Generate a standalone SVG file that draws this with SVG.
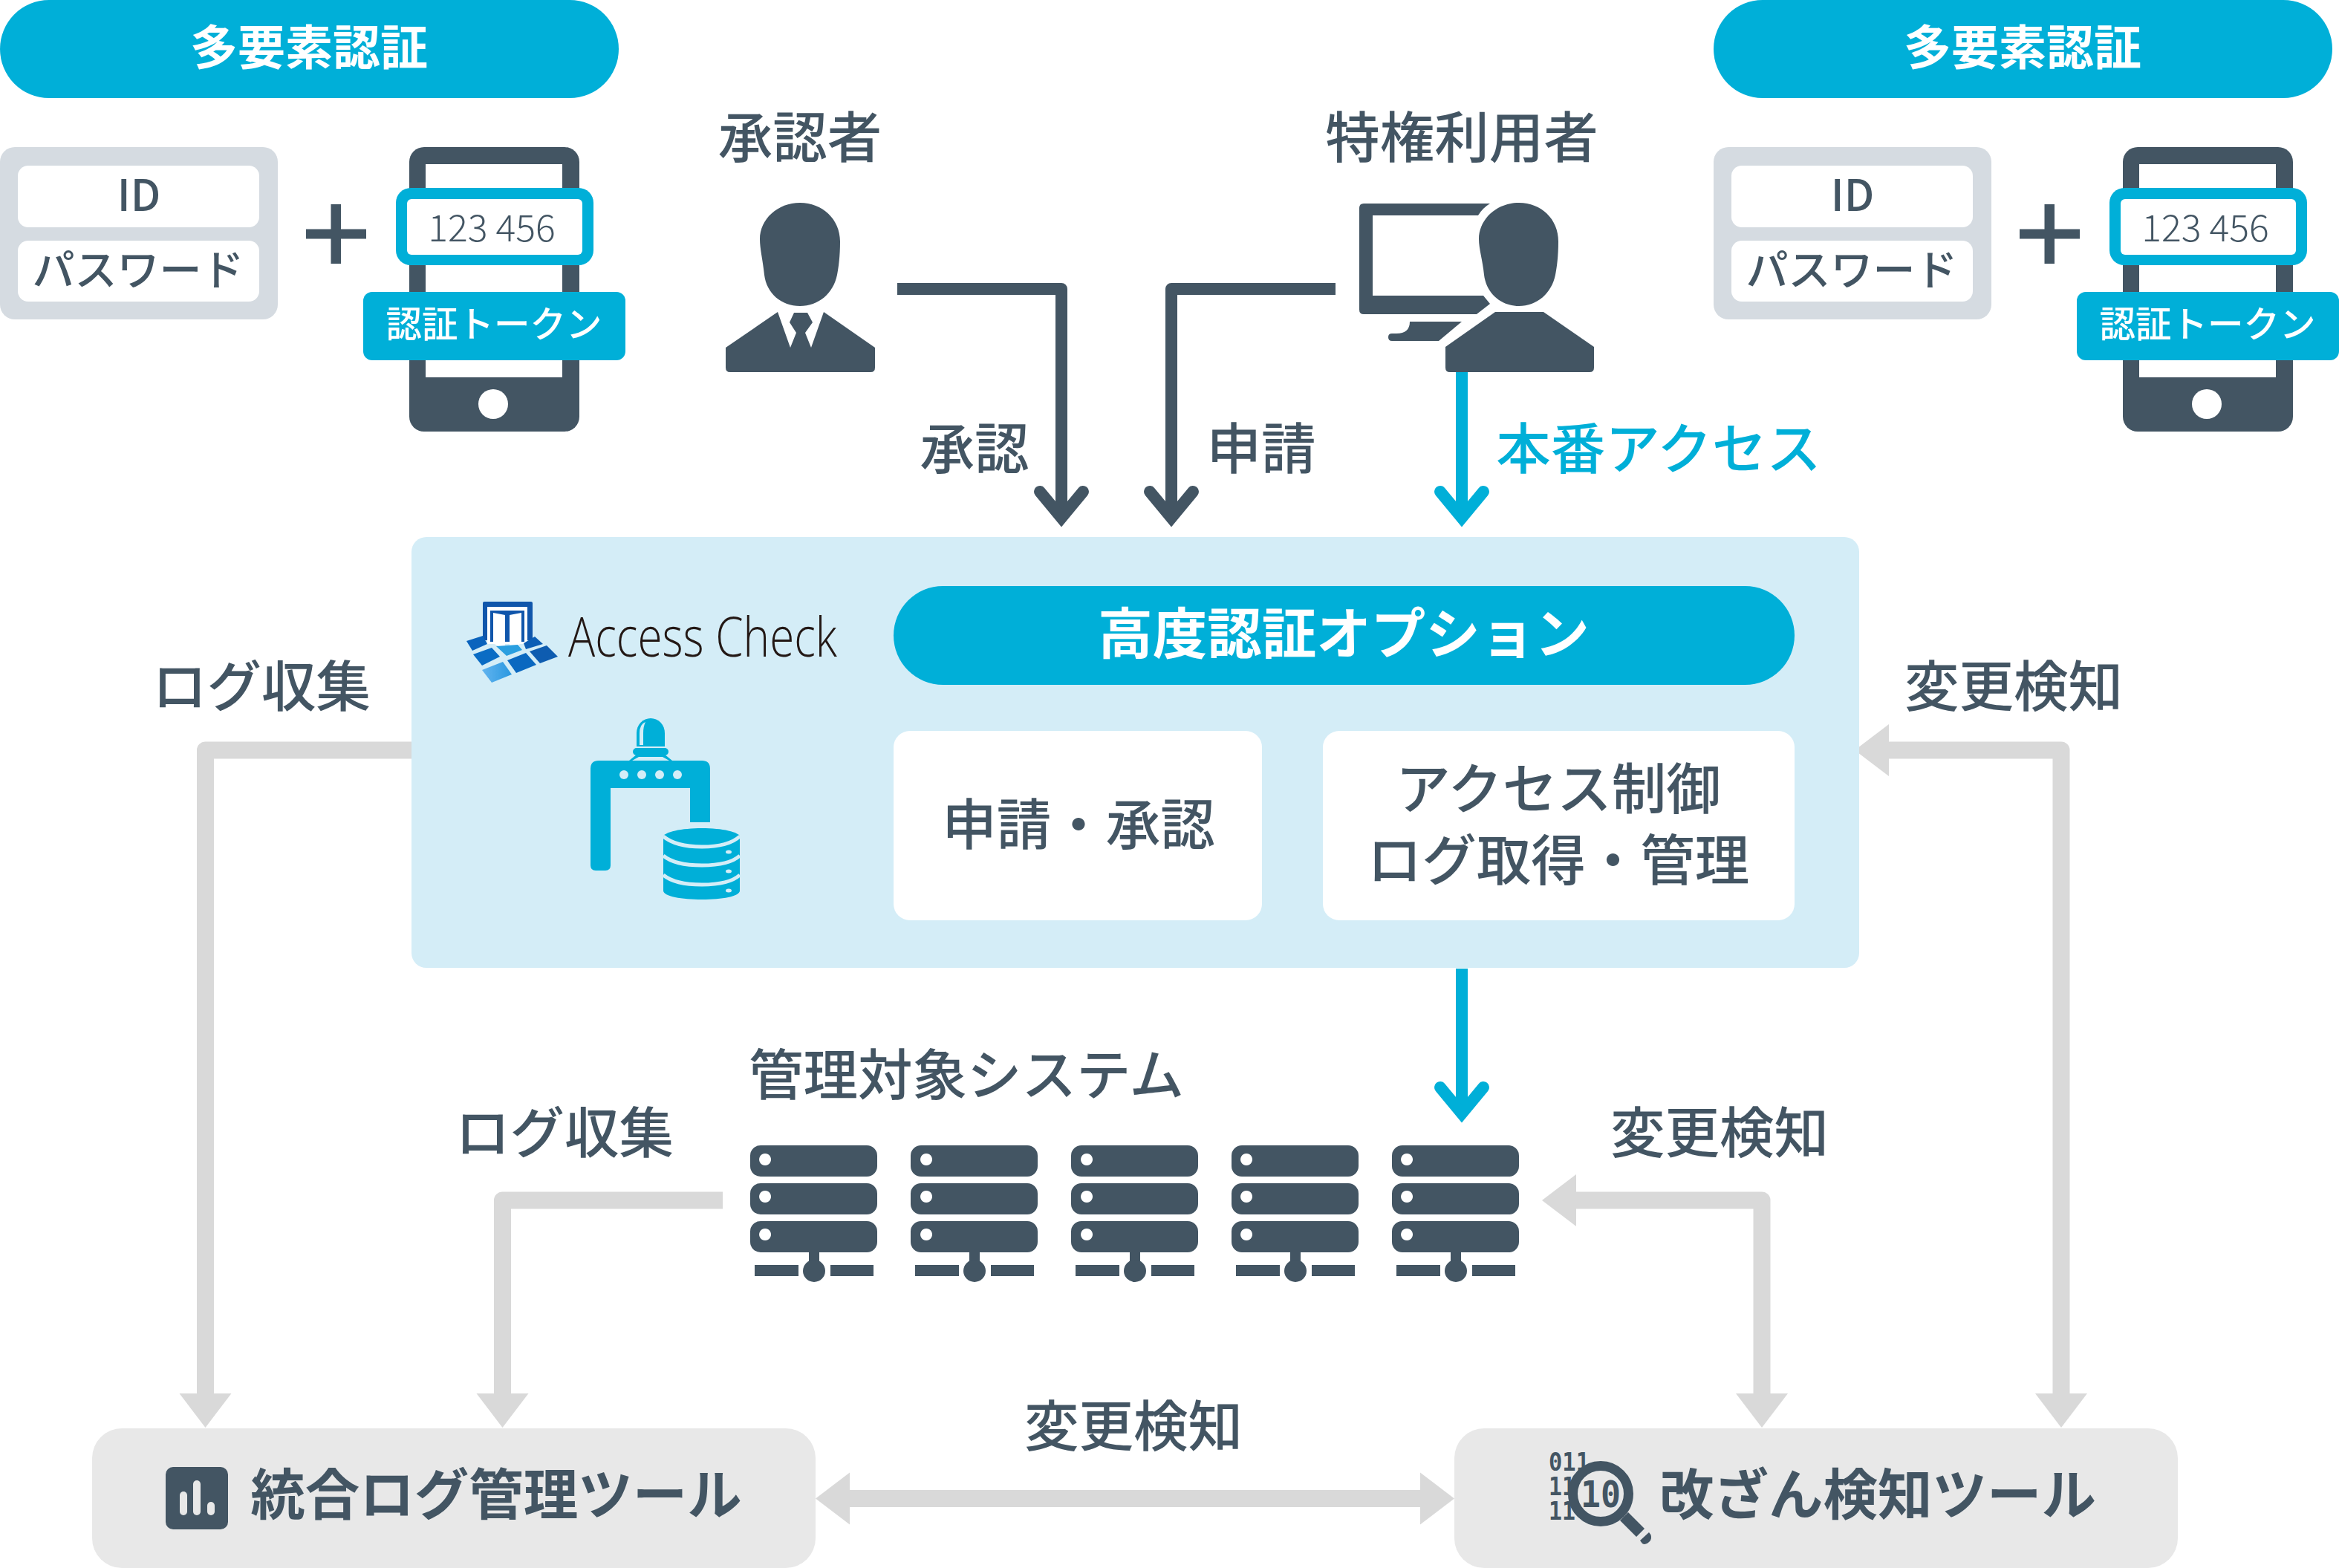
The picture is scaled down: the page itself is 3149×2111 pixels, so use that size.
<svg xmlns="http://www.w3.org/2000/svg" width="3149" height="2111" viewBox="0 0 3149 2111">
<style>
text{font-family:"Noto Sans CJK JP","Noto Sans",sans-serif;text-anchor:middle}
.t{font-size:73.500px;fill:#435563;font-weight:500}
.b{font-size:73.500px;fill:#435563;font-weight:700}
.w{fill:#fff;font-weight:700}
.dark{fill:#435563}
.cy{fill:#00afd8}
.pane{fill:#d4edf7}
.pl{fill:#00afd8}
.conn{fill:none;stroke-width:16;stroke-linejoin:round}
.gray{fill:none;stroke:#d9d9d9;stroke-width:23;stroke-linejoin:round}
.num{font-family:"DejaVu Sans Mono",monospace;font-weight:700;fill:#435563;text-anchor:start}
</style>
<defs>
<marker id="ad" markerUnits="userSpaceOnUse" orient="auto" overflow="visible" markerWidth="80" markerHeight="80" viewBox="-50 -40 80 80" refX="0" refY="0"><path d="M-35,-29L0,0L-35,29" fill="none" stroke="#435563" stroke-width="16" stroke-linecap="round" stroke-linejoin="miter"/></marker>
<marker id="ac" markerUnits="userSpaceOnUse" orient="auto" overflow="visible" markerWidth="80" markerHeight="80" viewBox="-50 -40 80 80" refX="0" refY="0"><path d="M-35,-29L0,0L-35,29" fill="none" stroke="#00afd8" stroke-width="16" stroke-linecap="round" stroke-linejoin="miter"/></marker>
<marker id="ag" markerUnits="userSpaceOnUse" orient="auto-start-reverse" overflow="visible" markerWidth="50" markerHeight="80" viewBox="0 -40 50 80" refX="0" refY="0"><path d="M0,-35L46,0L0,35Z" fill="#d9d9d9"/></marker>
<linearGradient id="tile" x1="0" x2="1" y1="0" y2="0"><stop offset="0" stop-color="#62b4ef"/><stop offset="1" stop-color="#2a98e0"/></linearGradient>
<g id="mfa">
<rect class="cy" x="0" y="0" width="833" height="132" rx="66"/>
<rect x="0" y="198" width="374" height="232" rx="20" fill="#d5dbe1"/>
<rect x="24" y="223" width="325" height="83" rx="14" fill="#fff"/>
<rect x="24" y="324" width="325" height="82" rx="14" fill="#fff"/>
<path class="dark" d="M445.500,275H459V308.500H493V321.500H459V355H445.500V321.500H412V308.500H445.500Z"/>
<path class="dark" d="M571,198H760a20,20 0 0 1 20,20V561a20,20 0 0 1 -20,20H571a20,20 0 0 1 -20,-20V218a20,20 0 0 1 20,-20Z"/>
<rect x="573" y="221" width="184" height="287" fill="#fff"/>
<circle cx="664" cy="544" r="20" fill="#fff"/>
<rect class="cy" x="533" y="253" width="266" height="104" rx="20"/>
<rect x="548" y="268" width="236" height="75" rx="6" fill="#fff"/>
<rect class="cy" x="489" y="393" width="353" height="92" rx="12"/>
</g>
</defs>
<g id="connectors">
<path class="conn" stroke="#435563" marker-end="url(#ad)" d="M1208,389H1429V697"/>
<path class="conn" stroke="#435563" marker-end="url(#ad)" d="M1798,389H1577V697"/>
<path class="conn" stroke="#00afd8" marker-end="url(#ac)" d="M1968,501V697"/>
<path class="conn" stroke="#00afd8" marker-end="url(#ac)" d="M1968,1304V1499"/>
<path class="gray" marker-end="url(#ag)" d="M554,1010H276.500V1876"/>
<path class="gray" marker-end="url(#ag)" d="M973,1616H676.500V1876"/>
<path class="gray" marker-start="url(#ag)" marker-end="url(#ag)" d="M2543,1010H2775V1876"/>
<path class="gray" marker-start="url(#ag)" marker-end="url(#ag)" d="M2122,1616H2372V1876"/>
<path class="gray" marker-start="url(#ag)" marker-end="url(#ag)" d="M1144,2017.500H1912"/>
</g>
<g id="mfa-left">
<use href="#mfa"/>
<text class="w" x="416" y="87" font-size="64">多要素認証</text>
<text class="t" x="187" y="284" style="font-size:58px">ID</text>
<text class="t" x="186" y="384" style="font-size:57px">パスワード</text>
<text class="t" x="662" y="325" style="font-size:50px;font-weight:300">123 456</text>
<text class="w" x="665" y="454" font-size="48.500" style="font-weight:500">認証トークン</text>
</g>
<g id="mfa-right" transform="translate(2307,0)">
<use href="#mfa"/>
<text class="w" x="416" y="87" font-size="64">多要素認証</text>
<text class="t" x="187" y="284" style="font-size:58px">ID</text>
<text class="t" x="186" y="384" style="font-size:57px">パスワード</text>
<text class="t" x="662" y="325" style="font-size:50px;font-weight:300">123 456</text>
<text class="w" x="665" y="454" font-size="48.500" style="font-weight:500">認証トークン</text>
</g>
<g id="approver">
<text class="t" x="1077" y="212">承認者</text>
<path class="dark" d="M1077,273C1107,273 1131,295 1131,325C1131,345 1129,360 1127,370C1122,395 1102,412 1077,412C1052,412 1032,395 1029,370C1027,350 1023,335 1023,322C1023,295 1047,273 1077,273Z"/>
<path class="dark" d="M1047,420L1064,468L1072,448L1063,434L1069,421H1087L1094,434L1084,448L1092,468L1109,420L1178,468V495q0,6 -6,6H983q-6,0 -6,-6V468Z"/>
</g>
<g id="user">
<text class="t" x="1968" y="212">特権利用者</text>
<path class="dark" fill-rule="evenodd" d="M1836,274H2006Q1996,280 1990,290H1848V398H1997L2006,409L1988,423H1836q-6,0 -6,-6V280q0,-6 6,-6Z"/>
<path class="dark" d="M1898,433H1968L1937,459H1874q-5,0 -5,-5q0,-5 5,-5H1880q18,0 18,-16Z"/>
<path class="dark" d="M2045,273C2075,273 2098,295 2098,325C2098,345 2096,360 2094,370C2089,395 2069,412 2045,412C2021,412 2001,395 1998,370C1996,350 1991,335 1991,322C1991,295 2015,273 2045,273Z"/>
<path class="dark" d="M2013,420H2078L2146,467V495q0,6 -6,6H1952q-6,0 -6,-6V467Z"/>
</g>
<text class="t" x="1312" y="631">承認</text>
<text class="t" x="1698" y="631">申請</text>
<text class="t" x="2233" y="631" style="fill:#00afd8">本番アクセス</text>
<text class="t" x="352" y="951">ログ収集</text>
<text class="t" x="2711" y="951">変更検知</text>
<text class="t" x="1301" y="1474">管理対象システム</text>
<text class="t" x="760" y="1552">ログ収集</text>
<text class="t" x="2315" y="1552">変更検知</text>
<text class="t" x="1526" y="1947">変更検知</text>
<g id="access-check">
<rect class="pane" x="554" y="723" width="1949" height="580" rx="20"/>
<rect x="650" y="810" width="67" height="52" rx="2" fill="#1056ab"/>
<rect x="656" y="817" width="54" height="50" fill="#fff"/>
<rect x="660" y="822" width="46" height="42" fill="#1056ab"/>
<path fill="#fff" d="M664,825L680,828V875L664,866ZM686,828L702,825V866L686,875Z"/>
<path fill="#0a63bd" d="M628,863L650,856L656,867L636,876Z"/>
<path fill="#0c5eb5" d="M705,866L720,857L731,867L708,874Z"/>
<path fill="#0a6cc4" d="M637,881L662,872L673,884L649,896Z"/>
<path fill="#2a9fe0" d="M668,870L697,868L703,875L682,883Z"/>
<path fill="#0e5cb0" d="M713,877L736,869L751,884L727,893Z"/>
<path fill="#0a68c0" d="M683,889L708,879L722,895L695,906Z"/>
<path fill="url(#tile)" d="M649,902L677,891L689,908L662,919Z"/>
<text x="765" y="884" textLength="362" lengthAdjust="spacingAndGlyphs" style="font-family:'Open Sans',sans-serif;font-weight:300;font-size:73px;fill:#231815;text-anchor:start">Access Check</text>
<path class="pl" d="M857,1005V987a19,20 0 0 1 38,0V1005Z"/>
<path class="pane" d="M861,1003V987q0,-12 8,-15q-3,6 -3,15V1003Z"/>
<rect class="pl" x="852" y="1007" width="48" height="10" rx="5"/>
<path class="pl" d="M847,1024L858,1015H894L905,1024H901L892,1019H860L851,1024Z"/>
<path class="pl" d="M806,1024H945q11,0 11,11V1107H929V1061H822V1165q0,7 -7,7H802q-7,0 -7,-7V1035q0,-11 11,-11Z"/>
<g class="pane"><circle cx="840" cy="1043" r="6"/><circle cx="864" cy="1043" r="6"/><circle cx="888" cy="1043" r="6"/><circle cx="912" cy="1043" r="6"/></g>
<path class="pl" d="M893,1127C893,1120 918,1115 945,1115C972,1115 996,1120 996,1127V1199C996,1207 972,1211 945,1211C918,1211 893,1207 893,1199Z"/>
<path fill="none" stroke="#d4edf7" stroke-width="5" d="M893,1126C905,1136 925,1140 945,1140C965,1140 985,1136 996,1126M893,1152C905,1162 925,1165 945,1165C965,1165 985,1162 996,1152M893,1178C905,1188 925,1191 945,1191C965,1191 985,1188 996,1178"/>
<g class="pane"><ellipse cx="981" cy="1147" rx="4" ry="2.500"/><ellipse cx="981" cy="1173" rx="4" ry="2.500"/><ellipse cx="981" cy="1199" rx="4" ry="2.500"/></g>
<rect class="cy" x="1203" y="789" width="1213" height="133" rx="66.500"/>
<text class="w" x="1809" y="880" font-size="73.500">高度認証オプション</text>
<rect x="1203" y="984" width="496" height="255" rx="22" fill="#fff"/>
<text class="t" x="1452" y="1137">申請・承認</text>
<rect x="1781" y="984" width="635" height="255" rx="22" fill="#fff"/>
<text class="t" x="2098" y="1089">アクセス制御</text>
<text class="t" x="2098" y="1185">ログ取得・管理</text>
</g>
<g id="servers" class="dark">
<g id="s1"><path fill-rule="evenodd" d="M1024,1542H1167a14,14 0 0 1 14,14V1570a14,14 0 0 1 -14,14H1024a14,14 0 0 1 -14,-14V1556a14,14 0 0 1 14,-14ZM1030,1553a8,8 0 1 0 .1,0ZM1024,1593H1167a14,14 0 0 1 14,14V1621a14,14 0 0 1 -14,14H1024a14,14 0 0 1 -14,-14V1607a14,14 0 0 1 14,-14ZM1030,1603a8,8 0 1 0 .1,0ZM1024,1644H1167a14,14 0 0 1 14,14V1672a14,14 0 0 1 -14,14H1024a14,14 0 0 1 -14,-14V1658a14,14 0 0 1 14,-14ZM1030,1654a8,8 0 1 0 .1,0Z"/><rect x="1089" y="1686" width="14" height="20"/><rect x="1016" y="1703" width="59" height="15"/><rect x="1118" y="1703" width="58" height="15"/><circle cx="1096" cy="1711" r="15"/></g>
<g id="s2"><path fill-rule="evenodd" d="M1240,1542H1383a14,14 0 0 1 14,14V1570a14,14 0 0 1 -14,14H1240a14,14 0 0 1 -14,-14V1556a14,14 0 0 1 14,-14ZM1247,1553a8,8 0 1 0 .1,0ZM1240,1593H1383a14,14 0 0 1 14,14V1621a14,14 0 0 1 -14,14H1240a14,14 0 0 1 -14,-14V1607a14,14 0 0 1 14,-14ZM1247,1603a8,8 0 1 0 .1,0ZM1240,1644H1383a14,14 0 0 1 14,14V1672a14,14 0 0 1 -14,14H1240a14,14 0 0 1 -14,-14V1658a14,14 0 0 1 14,-14ZM1247,1654a8,8 0 1 0 .1,0Z"/><rect x="1305" y="1686" width="14" height="20"/><rect x="1232" y="1703" width="59" height="15"/><rect x="1334" y="1703" width="58" height="15"/><circle cx="1312" cy="1711" r="15"/></g>
<g id="s3"><path fill-rule="evenodd" d="M1456,1542H1599a14,14 0 0 1 14,14V1570a14,14 0 0 1 -14,14H1456a14,14 0 0 1 -14,-14V1556a14,14 0 0 1 14,-14ZM1463,1553a8,8 0 1 0 .1,0ZM1456,1593H1599a14,14 0 0 1 14,14V1621a14,14 0 0 1 -14,14H1456a14,14 0 0 1 -14,-14V1607a14,14 0 0 1 14,-14ZM1463,1603a8,8 0 1 0 .1,0ZM1456,1644H1599a14,14 0 0 1 14,14V1672a14,14 0 0 1 -14,14H1456a14,14 0 0 1 -14,-14V1658a14,14 0 0 1 14,-14ZM1463,1654a8,8 0 1 0 .1,0Z"/><rect x="1521" y="1686" width="14" height="20"/><rect x="1448" y="1703" width="59" height="15"/><rect x="1550" y="1703" width="58" height="15"/><circle cx="1528" cy="1711" r="15"/></g>
<g id="s4"><path fill-rule="evenodd" d="M1672,1542H1815a14,14 0 0 1 14,14V1570a14,14 0 0 1 -14,14H1672a14,14 0 0 1 -14,-14V1556a14,14 0 0 1 14,-14ZM1678,1553a8,8 0 1 0 .1,0ZM1672,1593H1815a14,14 0 0 1 14,14V1621a14,14 0 0 1 -14,14H1672a14,14 0 0 1 -14,-14V1607a14,14 0 0 1 14,-14ZM1678,1603a8,8 0 1 0 .1,0ZM1672,1644H1815a14,14 0 0 1 14,14V1672a14,14 0 0 1 -14,14H1672a14,14 0 0 1 -14,-14V1658a14,14 0 0 1 14,-14ZM1678,1654a8,8 0 1 0 .1,0Z"/><rect x="1737" y="1686" width="14" height="20"/><rect x="1664" y="1703" width="59" height="15"/><rect x="1766" y="1703" width="58" height="15"/><circle cx="1744" cy="1711" r="15"/></g>
<g id="s5"><path fill-rule="evenodd" d="M1888,1542H2031a14,14 0 0 1 14,14V1570a14,14 0 0 1 -14,14H1888a14,14 0 0 1 -14,-14V1556a14,14 0 0 1 14,-14ZM1894,1553a8,8 0 1 0 .1,0ZM1888,1593H2031a14,14 0 0 1 14,14V1621a14,14 0 0 1 -14,14H1888a14,14 0 0 1 -14,-14V1607a14,14 0 0 1 14,-14ZM1894,1603a8,8 0 1 0 .1,0ZM1888,1644H2031a14,14 0 0 1 14,14V1672a14,14 0 0 1 -14,14H1888a14,14 0 0 1 -14,-14V1658a14,14 0 0 1 14,-14ZM1894,1654a8,8 0 1 0 .1,0Z"/><rect x="1953" y="1686" width="14" height="20"/><rect x="1880" y="1703" width="59" height="15"/><rect x="1982" y="1703" width="58" height="15"/><circle cx="1960" cy="1711" r="15"/></g>
</g>
<g id="log-tool">
<rect x="124" y="1923" width="974" height="188" rx="40" fill="#e8e8e8"/>
<rect class="dark" x="223" y="1975" width="84" height="84" rx="10"/>
<rect x="242" y="2008" width="10" height="32" rx="5" fill="#e8e8e8"/><rect x="260" y="1993" width="10" height="47" rx="5" fill="#e8e8e8"/><rect x="279" y="2022" width="10" height="18" rx="5" fill="#e8e8e8"/>
<text class="b" x="668" y="2039">統合ログ管理ツール</text>
</g>
<g id="tamper-tool">
<rect x="1958" y="1923" width="974" height="188" rx="40" fill="#e8e8e8"/>
<text class="num" x="2085" y="1980" textLength="55" lengthAdjust="spacingAndGlyphs" style="font-size:33px">011</text>
<text class="num" x="2085" y="2013" textLength="36" lengthAdjust="spacingAndGlyphs" style="font-size:33px">11</text>
<text class="num" x="2085" y="2046" textLength="36" lengthAdjust="spacingAndGlyphs" style="font-size:33px">11</text>
<text class="num" x="2128" y="2029" textLength="54" lengthAdjust="spacingAndGlyphs" style="font-size:49px">10</text>
<circle cx="2155" cy="2011" r="37.500" fill="none" stroke="#435563" stroke-width="13"/>
<path class="dark" d="M2181,2047L2192,2036L2214,2058L2203,2069ZM2208,2074L2220,2063Q2225,2068 2222,2074Q2216,2081 2211,2078Z"/>
<text class="b" x="2528" y="2039">改ざん検知ツール</text>
</g>
</svg>
